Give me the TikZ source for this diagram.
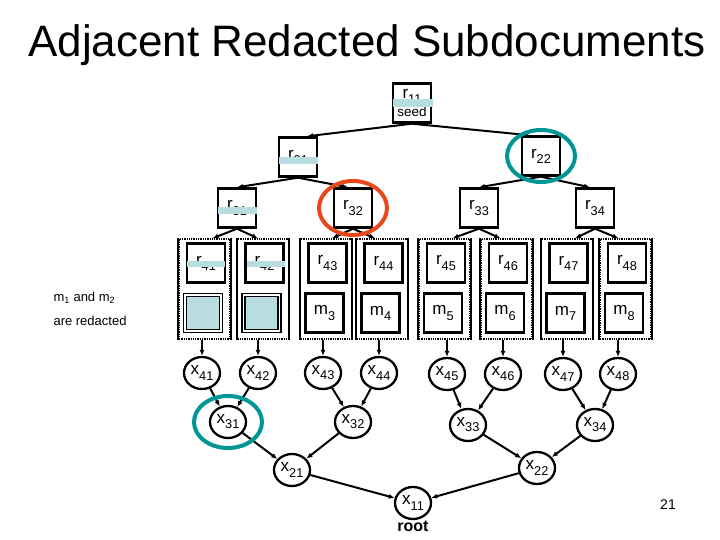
\documentclass[tikz,border=0pt]{standalone}
\usepackage{fontspec}
\usepackage{graphicx}
\setmainfont{Liberation Sans}
\usetikzlibrary{shapes.geometric,arrows.meta}

\definecolor{redactblue}{RGB}{183,221,224}
\definecolor{markteal}{RGB}{0,150,150}
\definecolor{markred}{RGB}{232,72,24}

\newcommand{\lowsub}[1]{\raisebox{-0.3em}{\scalebox{0.75}{#1}}}
\newcommand{\rlab}[1]{r\lowsub{#1}}
\newcommand{\mlab}[1]{m\lowsub{#1}}
\newcommand{\xlab}[1]{x\lowsub{#1}}

\tikzset{
  rbox/.style={draw, line width=2.4pt, minimum width=38pt, minimum height=39pt,
    inner sep=0pt, font=\fontsize{17}{19}\selectfont},
  mred/.style={draw, fill=redactblue, line width=1.7pt, double=white,
    double distance=1.5pt, minimum width=36pt, minimum height=36pt, inner sep=0pt},
  subdoc/.style={draw, densely dotted, line width=1.3pt, minimum width=51pt,
    minimum height=100pt, inner sep=0pt,
    append after command={
      (\tikzlastnode.north west) edge[solid, line width=2.2pt] (\tikzlastnode.south west)
      (\tikzlastnode.north east) edge[solid, line width=2.2pt] (\tikzlastnode.south east)}},
  xnode/.style={ellipse, draw, line width=2.3pt, minimum width=36pt,
    minimum height=32pt, inner sep=0pt, font=\fontsize{17}{19}\selectfont},
  link/.style={-{Latex[length=6pt,width=5pt]}, line width=2pt},
  redact/.style={fill=redactblue},
  hilite/.style={line width=4pt}
}

\begin{document}
\begin{tikzpicture}[x=1pt,y=-1pt]
    \useasboundingbox (0,0) rectangle (720,540);

    \node[anchor=base, font=\fontsize{44}{50}\selectfont] (title) at (367,57) {Adjacent Redacted Subdocuments};

    % key tree
    \node[rbox, align=center] (r11) at (412,103) {\rlab{11}\\[-1pt]{\fontsize{13.5}{14}\selectfont seed}};
    \node[rbox] (r21) at (298,157) {\rlab{21}};
    \node[rbox] (r22) at (541,156) {\rlab{22}};
    \node[rbox] (r31) at (237,208) {\rlab{31}};
    \node[rbox] (r32) at (353,208) {\rlab{32}};
    \node[rbox] (r33) at (479,208) {\rlab{33}};
    \node[rbox] (r34) at (595,208) {\rlab{34}};

    % subdocuments
    \node[subdoc] (s41) at (204.5,289) {};
    \node[subdoc] (s42) at (263,289) {};
    \node[subdoc] (s43) at (326,289) {};
    \node[subdoc] (s44) at (382,289) {};
    \node[subdoc] (s45) at (444.5,289) {};
    \node[subdoc] (s46) at (506.5,289) {};
    \node[subdoc] (s47) at (567,289) {};
    \node[subdoc] (s48) at (625.5,289) {};

    \node[rbox] (r41) at (206,263) {\rlab{41}};
    \node[rbox] (r42) at (264.5,263) {\rlab{42}};
    \node[rbox] (r43) at (327.5,263) {\rlab{43}};
    \node[rbox] (r44) at (383.5,263) {\rlab{44}};
    \node[rbox] (r45) at (446,263) {\rlab{45}};
    \node[rbox] (r46) at (508,263) {\rlab{46}};
    \node[rbox] (r47) at (568.5,263) {\rlab{47}};
    \node[rbox] (r48) at (627,263) {\rlab{48}};

    \node[mred] (m1) at (203,313) {};
    \node[mred] (m2) at (261.5,313) {};
    \node[rbox] (m3) at (324.5,313) {\mlab{3}};
    \node[rbox] (m4) at (380.5,313) {\mlab{4}};
    \node[rbox] (m5) at (443,313) {\mlab{5}};
    \node[rbox] (m6) at (505,313) {\mlab{6}};
    \node[rbox] (m7) at (565.5,313) {\mlab{7}};
    \node[rbox] (m8) at (624,313) {\mlab{8}};

    % redacted keys
    \fill[redact] (393,99) rectangle (433,107);
    \fill[redact] (279,157) rectangle (318,164);
    \fill[redact] (218,207) rectangle (257,214);
    \fill[redact] (187,261) rectangle (225,267);
    \fill[redact] (247,261) rectangle (285,267);

    \draw[link] (r11.south) -- ([xshift=9pt]r21.north);
    \draw[link] (r11.south) -- ([xshift=-11pt]r22.north);
    \draw[link] (r21.south) -- (r31.north);
    \draw[link] (r21.south) -- ([xshift=-5pt]r32.north);
    \draw[link] (r22.south) -- (r33.north);
    \draw[link] (r22.south) -- ([xshift=-5pt]r34.north);

    \draw[link] (r31.south) -- ([xshift=8pt]s41.north);
    \draw[link] (r31.south) -- ([xshift=-5pt]s42.north);
    \draw[link] (r32.south) -- ([xshift=6pt]s43.north);
    \draw[link] (r32.south) -- ([xshift=-7pt]s44.north);
    \draw[link] (r33.south) -- ([xshift=8pt]s45.north);
    \draw[link] (r33.south) -- ([xshift=-6pt]s46.north);
    \draw[link] (r34.south) -- ([xshift=8pt]s47.north);
    \draw[link] (r34.south) -- ([xshift=-7pt]s48.north);

    \node[anchor=west, align=left, font=\fontsize{13}{24}\selectfont] (note) at (50,309) {m\textsubscript{1} and m\textsubscript{2}\\are redacted};

    % hash tree
    \node[xnode] (x41) at (202,373) {\xlab{41}};
    \node[xnode] (x42) at (258,373) {\xlab{42}};
    \node[xnode] (x43) at (323,373) {\xlab{43}};
    \node[xnode] (x44) at (379,373) {\xlab{44}};
    \node[xnode] (x45) at (447,374) {\xlab{45}};
    \node[xnode] (x46) at (503,374) {\xlab{46}};
    \node[xnode] (x47) at (563,374) {\xlab{47}};
    \node[xnode] (x48) at (618,374) {\xlab{48}};
    \node[xnode] (x31) at (228,422) {\xlab{31}};
    \node[xnode] (x32) at (353,422) {\xlab{32}};
    \node[xnode] (x33) at (468,425) {\xlab{33}};
    \node[xnode] (x34) at (595,425) {\xlab{34}};
    \node[xnode] (x21) at (292,470) {\xlab{21}};
    \node[xnode] (x22) at (537,468) {\xlab{22}};
    \node[xnode, label={[font=\fontsize{16}{18}\selectfont\bfseries, inner sep=1pt]below:root}] (x11) at (413,503) {\xlab{11}};

    \draw[link] (s41.south -| x41) -- (x41);
    \draw[link] (s42.south -| x42) -- (x42);
    \draw[link] (s43.south -| x43) -- (x43);
    \draw[link] (s44.south -| x44) -- (x44);
    \draw[link] (s45.south -| x45) -- (x45);
    \draw[link] (s46.south -| x46) -- (x46);
    \draw[link] (s47.south -| x47) -- (x47);
    \draw[link] (s48.south -| x48) -- (x48);

    \draw[link] (x41) -- (x31);
    \draw[link] (x42) -- (x31);
    \draw[link] (x43) -- (x32);
    \draw[link] (x44) -- (x32);
    \draw[link] (x45) -- (x33);
    \draw[link] (x46) -- (x33);
    \draw[link] (x47) -- (x34);
    \draw[link] (x48) -- (x34);
    \draw[link] (x31) -- (x21);
    \draw[link] (x32) -- (x21);
    \draw[link] (x33) -- (x22);
    \draw[link] (x34) -- (x22);
    \draw[link] (x21) -- (x11);
    \draw[link] (x22) -- (x11);

    % highlighted nodes
    \draw[hilite, markteal] (r22) ellipse [x radius=34, y radius=26];
    \draw[hilite, markred] (r32) ellipse [x radius=34, y radius=27];
    \draw[hilite, markteal] (x31) ellipse [x radius=34, y radius=26];

    \node[font=\fontsize{14}{16}\selectfont] (pagenum) at (668,505) {21};
\end{tikzpicture}
\end{document}
